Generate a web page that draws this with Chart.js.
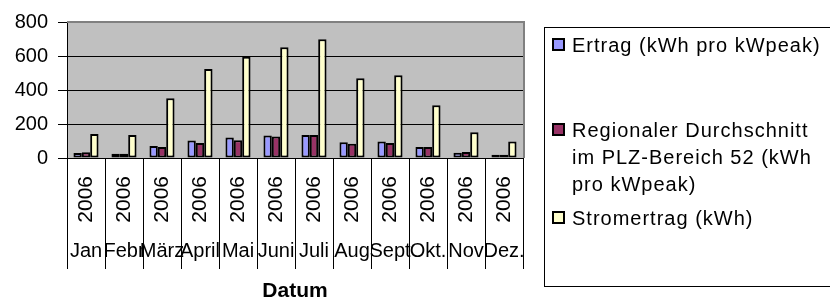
<!DOCTYPE html>
<html>
<head>
<meta charset="utf-8">
<script src="https://cdn.jsdelivr.net/npm/chart.js@4.4.1/dist/chart.umd.min.js"></script>
<style>
  html, body { margin: 0; padding: 0; background: #fff; }
  canvas { display: block; }
</style>
</head>
<body>
<canvas id="chart" width="830" height="302"></canvas>
<script>
const years = ['2006', '2006', '2006', '2006', '2006', '2006', '2006', '2006', '2006', '2006', '2006', '2006'];
const months = ['Jan', 'Febr', 'März', 'April', 'Mai', 'Juni', 'Juli', 'Aug', 'Sept', 'Okt.', 'Nov', 'Dez.'];

const ertrag = [29, 25, 71, 103, 120, 132, 136, 93, 97, 65, 31, 19];
const regional = [34, 25, 65, 88, 105, 126, 135, 84, 88, 65, 36, 19];
const stromertrag = [141, 135, 351, 523, 595, 651, 698, 469, 487, 311, 151, 97];

const yTicks = [0, 200, 400, 600, 800];

const legendLines = [
    ['Ertrag (kWh pro kWpeak)'],
    ['Regionaler Durchschnitt', 'im PLZ-Bereich 52 (kWh', 'pro kWpeak)'],
    ['Stromertrag (kWh)']
];

const FONT = '"Liberation Sans", Arial, sans-serif';
Chart.defaults.font.family = FONT;
Chart.defaults.color = '#000';

// grey plot background + frame
const plotArea = {
    id: 'plotArea',
    beforeDraw(chart) {
        const { ctx, chartArea: a } = chart;
        ctx.save();
        ctx.fillStyle = '#c0c0c0';
        ctx.fillRect(a.left, a.top, a.right - a.left, a.bottom - a.top);
        ctx.restore();
    },
    beforeDatasetsDraw(chart) {
        const { ctx, chartArea: a } = chart;
        ctx.save();
        ctx.strokeStyle = '#808080';
        ctx.lineWidth = 2;
        ctx.beginPath();
        ctx.moveTo(a.left, a.top);
        ctx.lineTo(a.right + 1, a.top);
        ctx.lineTo(a.right + 1, a.bottom);
        ctx.stroke();
        ctx.restore();
    }
};

// vertical separators of the two-level category axis
const dividers = {
    id: 'dividers',
    afterDraw(chart) {
        const { ctx } = chart;
        const x = chart.scales.x;
        const x2 = chart.scales.x2;
        const n = months.length;
        const step = (x.right - x.left) / n;
        ctx.save();
        ctx.strokeStyle = '#000';
        ctx.lineWidth = 1;
        ctx.beginPath();
        for (let i = 0; i <= n; i++) {
            const px = Math.round(x.left + i * step) + 0.5;
            ctx.moveTo(px, x.top);
            ctx.lineTo(px, x2.top + 33);
        }
        ctx.stroke();
        ctx.restore();
    }
};

// excel style legend box on the right
const boxLegend = {
    id: 'boxLegend',
    afterDraw(chart) {
        const { ctx } = chart;
        const itemY = [45, 130, 218];
        ctx.save();
        ctx.fillStyle = '#fff';
        ctx.strokeStyle = '#000';
        ctx.lineWidth = 1;
        ctx.fillRect(544, 27, 290, 259);
        ctx.strokeRect(544.5, 27.5, 290, 259);
        ctx.font = '20px ' + FONT;
        ctx.letterSpacing = '1px';
        ctx.textBaseline = 'middle';
        ctx.textAlign = 'left';
        chart.data.datasets.forEach((ds, i) => {
            const y = itemY[i];
            ctx.fillStyle = ds.backgroundColor;
            ctx.fillRect(553, y - 6, 11, 11);
            ctx.lineWidth = 2;
            ctx.strokeStyle = '#000';
            ctx.strokeRect(553, y - 6, 11, 11);
            ctx.fillStyle = '#000';
            legendLines[i].forEach((line, j) => {
                ctx.fillText(line, 572, y + 1 + j * 27);
            });
        });
        ctx.restore();
    }
};

const barStyle = {
    borderColor: '#000',
    borderWidth: 2,
    borderSkipped: false,
    categoryPercentage: 0.66,
    barPercentage: 1.0
};

new Chart(document.getElementById('chart'), {
    type: 'bar',
    data: {
        labels: years,
        datasets: [
            { label: legendLines[0].join(' '), data: ertrag, backgroundColor: '#9999ff', ...barStyle },
            { label: legendLines[1].join(' '), data: regional, backgroundColor: '#993366', ...barStyle },
            { label: legendLines[2].join(' '), data: stromertrag, backgroundColor: '#ffffcc', ...barStyle }
        ]
    },
    options: {
        responsive: false,
        animation: false,
        layout: { padding: { top: 18, right: 307, bottom: 0, left: 0 } },
        plugins: {
            legend: { display: false },
            tooltip: { enabled: false }
        },
        scales: {
            x: {
                type: 'category',
                labels: years,
                offset: true,
                grid: { display: false, drawTicks: false },
                border: { display: true, color: '#000', width: 1 },
                ticks: {
                    autoSkip: false,
                    minRotation: 90,
                    maxRotation: 90,
                    padding: 18,
                    font: { size: 21 }
                },
                afterFit(scale) { scale.height = 78; }
            },
            x2: {
                type: 'category',
                position: 'bottom',
                labels: months,
                offset: true,
                grid: { display: false, drawTicks: false },
                border: { display: false },
                ticks: {
                    autoSkip: false,
                    minRotation: 0,
                    maxRotation: 0,
                    padding: 3,
                    font: { size: 20 }
                },
                title: {
                    display: true,
                    text: 'Datum',
                    font: { size: 21, weight: 'bold' },
                    padding: { top: 0, bottom: -2 }
                },
                afterFit(scale) { scale.height = 66; }
            },
            y: {
                min: yTicks[0],
                max: yTicks[yTicks.length - 1],
                afterBuildTicks(scale) { scale.ticks = yTicks.map(v => ({ value: v })); },
                grid: {
                    color: ctx => (ctx.tick && ctx.tick.value === 800) ? '#808080' : '#000',
                    tickColor: '#000',
                    tickLength: 9,
                    lineWidth: 1
                },
                border: { display: true, color: '#000', width: 1 },
                ticks: {
                    padding: 10,
                    font: { size: 20 }
                },
                afterFit(scale) { scale.width = 67; }
            }
        }
    },
    plugins: [plotArea, dividers, boxLegend]
});
</script>
</body>
</html>
